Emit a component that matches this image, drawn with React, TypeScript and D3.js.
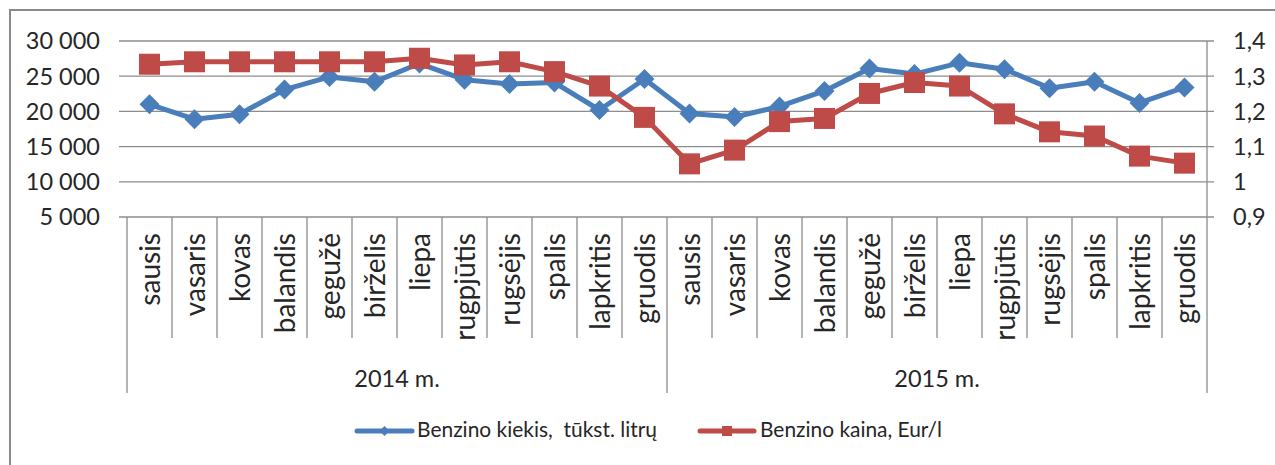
import React from "react";
import * as d3 from "d3";

const months = ["sausis","vasaris","kovas","balandis","gegužė","birželis","liepa","rugpjūtis","rugsėjis","spalis","lapkritis","gruodis"];
const years = ["2014 m.", "2015 m."];
const quantity = [21000,18900,19600,23100,24900,24200,26800,24500,23900,24100,20200,24600,19700,19200,20700,22900,26100,25300,26900,26000,23300,24200,21200,23400];
const price = [1.334,1.341,1.341,1.341,1.341,1.341,1.351,1.332,1.341,1.313,1.272,1.183,1.051,1.090,1.171,1.180,1.251,1.282,1.272,1.193,1.142,1.130,1.073,1.053];
const leftTicks = [5000,10000,15000,20000,25000,30000];
const rightTicks = [0.9,1.0,1.1,1.2,1.3,1.4];
const seriesNames = ["Benzino kiekis,  tūkst. litrų", "Benzino kaina, Eur/l"];

const W = 1275, H = 465;
const L = 127, R = 1207, T = 41, B = 217;
const BLUE = "#4A7EBB", RED = "#BE4B48";
const GRID = "#8c8c8c";
const TXT = "#262626";
const FONT = "Lato, 'Open Sans', sans-serif";

export default function App() {
  const cats = years.flatMap((y) => months.map((m) => `${y}|${m}`));
  const x = d3.scaleBand().domain(cats).range([L, R]);
  const cx = (i: number) => (x(cats[i]) as number) + x.bandwidth() / 2;
  const yL = d3.scaleLinear().domain([5000, 30000]).range([B, T]);
  const yR = d3.scaleLinear().domain([0.9, 1.4]).range([B, T]);
  const fmtL = (v: number) => d3.format(",")(v).replace(/,/g, " ");
  const fmtR = (v: number) => d3.format("~g")(+v.toFixed(1)).replace(".", ",");

  const lineQ = d3.line<number>().x((_, i) => cx(i)).y((d) => yL(d));
  const lineP = d3.line<number>().x((_, i) => cx(i)).y((d) => yR(d));
  const diamond = (px: number, py: number, r: number) =>
    `M${px},${py - r}L${px + r},${py}L${px},${py + r}L${px - r},${py}Z`;

  const bw = x.bandwidth();
  const monthBottom = 338, yearBottom = 393;

  return (
    <svg width={W} height={H} style={{ position: "absolute", left: 0, top: 0, background: "#fff" }} fontFamily={FONT}>
      <rect x={0} y={0} width={W} height={H} fill="#fff" />
      <rect x={10} y={10} width={W + 10} height={H + 10} fill="none" stroke="#8a8a8a" strokeWidth={2} />
      {leftTicks.map((t) => (
        <line key={t} x1={L - 8} x2={R + 7} y1={yL(t)} y2={yL(t)} stroke={GRID} strokeWidth={1.3} />
      ))}
      <line x1={R} x2={R} y1={T} y2={B} stroke={GRID} strokeWidth={1.3} />
      {leftTicks.map((t) => (
        <text key={t} x={100} y={yL(t)} dy="0.36em" textAnchor="end" fontSize={23.5} fill={TXT}>{fmtL(t)}</text>
      ))}
      {rightTicks.map((t) => (
        <text key={t} x={1233} y={yR(t)} dy="0.36em" textAnchor="start" fontSize={23.5} fill={TXT}>{fmtR(t)}</text>
      ))}
      {cats.map((c, i) => {
        const xx = x(c) as number;
        const isYear = i % 12 === 0;
        return <line key={c} x1={xx} x2={xx} y1={B} y2={isYear ? yearBottom : monthBottom} stroke={GRID} strokeWidth={1.3} />;
      })}
      <line x1={R} x2={R} y1={B} y2={yearBottom} stroke={GRID} strokeWidth={1.3} />
      {cats.map((c, i) => {
        const px = cx(i) + 10.5;
        const py = 233;
        return (
          <text key={c} x={px} y={py} transform={`rotate(-90,${px},${py})`} textAnchor="end" fontSize={28} fill={TXT}>
            {months[i % 12]}
          </text>
        );
      })}
      {years.map((y, j) => (
        <text key={y} x={L + bw * 12 * j + bw * 6} y={387} textAnchor="middle" fontSize={23.5} fill={TXT}>{y}</text>
      ))}
      <path d={lineQ(quantity) as string} fill="none" stroke={BLUE} strokeWidth={5} strokeLinejoin="round" />
      {quantity.map((v, i) => (
        <path key={i} d={diamond(cx(i), yL(v), 10)} fill={BLUE} />
      ))}
      <path d={lineP(price) as string} fill="none" stroke={RED} strokeWidth={5} strokeLinejoin="round" />
      {price.map((v, i) => (
        <rect key={i} x={cx(i) - 10.5} y={yR(v) - 10.5} width={21} height={21} fill={RED} />
      ))}
      <g>
        <line x1={357} x2={412} y1={431} y2={431} stroke={BLUE} strokeWidth={5} strokeLinecap="round" />
        <path d={diamond(384.5, 431, 5)} fill={BLUE} />
        <text x={417} y={437} fontSize={20.5} fill={TXT} textLength={240} lengthAdjust="spacingAndGlyphs" style={{ whiteSpace: "pre" }}>{seriesNames[0]}</text>
        <line x1={700} x2={754} y1={431} y2={431} stroke={RED} strokeWidth={5} strokeLinecap="round" />
        <rect x={722} y={426} width={10} height={10} fill={RED} />
        <text x={760} y={437} fontSize={20.5} fill={TXT} textLength={182} lengthAdjust="spacingAndGlyphs">{seriesNames[1]}</text>
      </g>
    </svg>
  );
}
